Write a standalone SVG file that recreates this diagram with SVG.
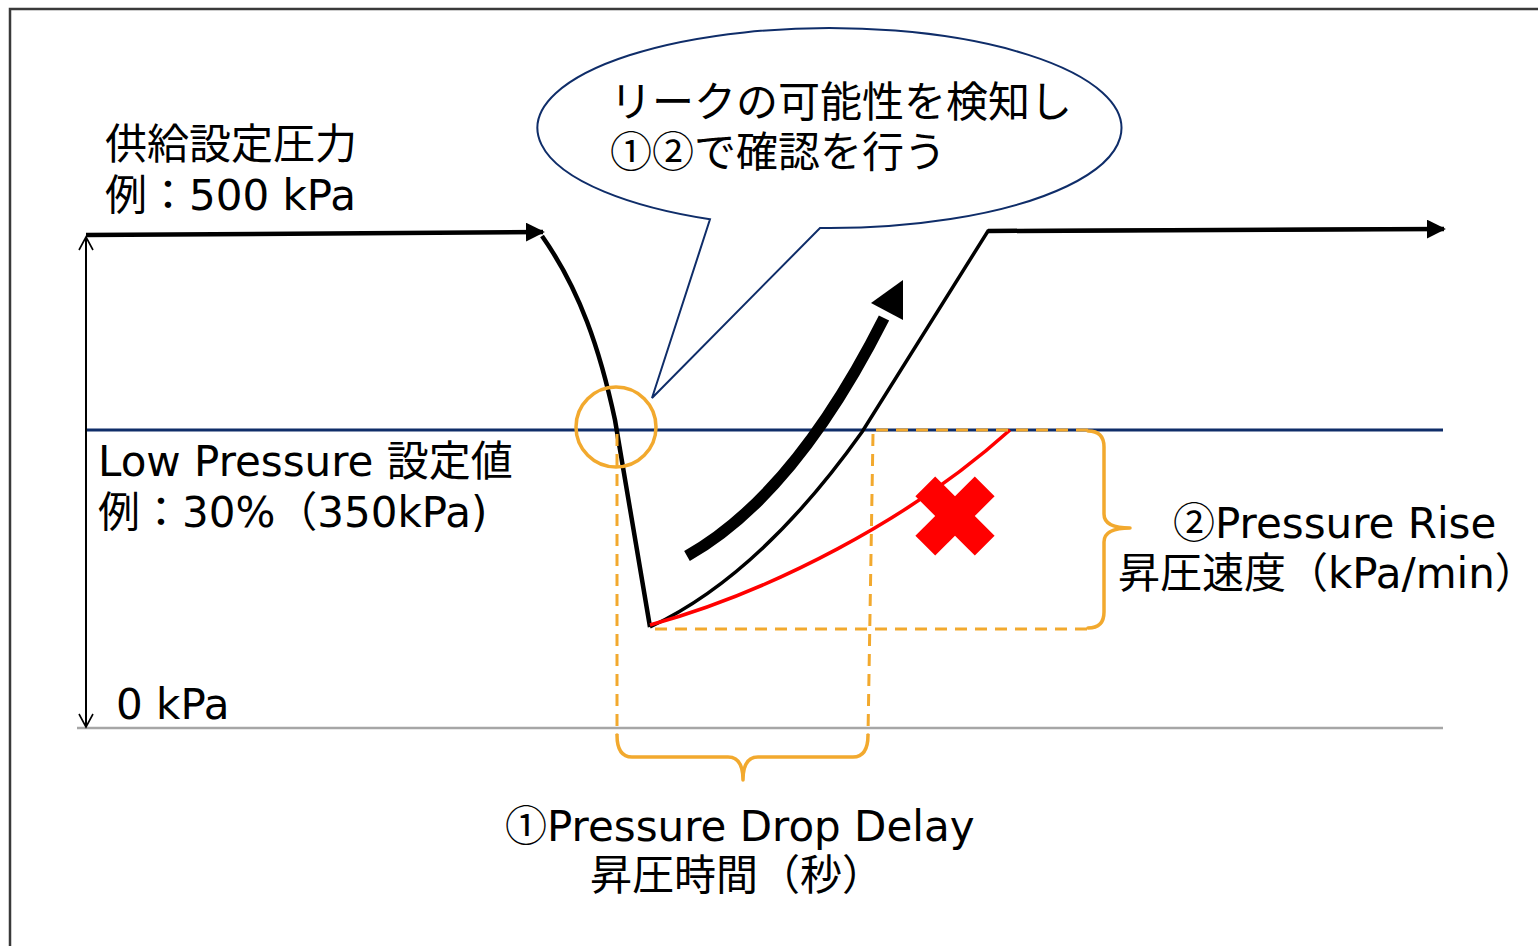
<svg xmlns="http://www.w3.org/2000/svg" width="1538" height="946" viewBox="0 0 1538 946">
<style>
text{font-family:"DejaVu Sans","Noto Sans CJK JP",sans-serif;font-size:42px;fill:#000}
.cj{font-family:"Noto Sans CJK JP",sans-serif}
.dash{fill:none;stroke:#F2A92E;stroke-width:3;stroke-dasharray:12 8}
.brace{fill:none;stroke:#F2A92E;stroke-width:3.5;stroke-linejoin:round;stroke-linecap:round}
.blk{fill:none;stroke:#000;stroke-linecap:butt}
</style>
<defs>
<marker id="ah" viewBox="0 0 10 10" refX="9" refY="5" markerWidth="4.2" markerHeight="4.2" orient="auto" markerUnits="strokeWidth">
<path d="M0,0 L10,5 L0,10 Z" fill="#000"/>
</marker>
<marker id="open" viewBox="0 0 16 16" refX="14" refY="8" markerWidth="8" markerHeight="8" orient="auto" markerUnits="strokeWidth">
<path d="M1,1 L14,8 L1,15" fill="none" stroke="#000" stroke-width="1.6"/>
</marker>
</defs>
<rect width="1538" height="946" fill="#fff"/>
<path d="M10,946 L10,9 L1538,9" fill="none" stroke="#3a3a3a" stroke-width="2.5"/>

<g id="axes">
<line x1="77" y1="728" x2="1443" y2="728" stroke="#A6A6A6" stroke-width="2.5"/>
<line x1="86" y1="430" x2="1443" y2="430" stroke="#0F2D69" stroke-width="3"/>
<line x1="86" y1="472" x2="86" y2="237" stroke="#000" stroke-width="2" marker-end="url(#open)"/>
<line x1="86" y1="470" x2="86" y2="727" stroke="#000" stroke-width="2" marker-end="url(#open)"/>
</g>

<g id="connectors">
<line class="blk" x1="86" y1="235" x2="543" y2="232" stroke-width="4.5" marker-end="url(#ah)"/>
<path class="blk" d="M542,236 C580,290 600,350 615,420 L650,627" stroke-width="4.5"/>
<path class="blk" d="M650,627 C740,585 810,505 862,432 L988,231 L1430,229" stroke-width="3.5"/>
<line class="blk" x1="988" y1="231" x2="1444" y2="229" stroke-width="4.5" marker-end="url(#ah)"/>
<path class="blk" d="M687,556 C765,512 830,425 884,318" stroke-width="11.5"/>
<polygon points="903,280 871,303 903,320" fill="#000"/>
<path d="M650,625 C770,592 910,520 1010,430" fill="none" stroke="#FF0000" stroke-width="3.5"/>
</g>

<g id="markers">
<circle cx="616" cy="427" r="40" fill="none" stroke="#F2A92E" stroke-width="3.5"/>
<line class="dash" x1="617" y1="434" x2="617" y2="735"/>
<line class="dash" x1="873" y1="434" x2="868" y2="735"/>
<line class="dash" x1="876" y1="430" x2="1088" y2="430"/>
<line class="dash" x1="655" y1="629" x2="1088" y2="629"/>
<path class="brace" d="M617,735 Q617,757 632,757 L728,757 Q743,757 743,780 Q743,757 758,757 L853,757 Q868,757 868,735"/>
<path class="brace" d="M1088,431 Q1104,431 1104,447 L1104,514 Q1104,528 1130,528 Q1104,528 1104,542 L1104,612 Q1104,628 1088,628"/>
<g transform="translate(955,516)" fill="#FF0000">
<rect x="-42" y="-14" width="84" height="28" transform="rotate(45)"/>
<rect x="-42" y="-14" width="84" height="28" transform="rotate(-45)"/>
</g>
</g>

<g id="callout">
<path d="M710,219.3 L652,398 L820,228 A292,100 0 1 0 710,219.3 Z" fill="#fff" stroke="#0F2D69" stroke-width="2"/>
<text x="610" y="117">リークの可能性を検知し</text>
<text x="610" y="167"><tspan class="cj">①②</tspan>で確認を行う</text>
</g>

<g id="supply-label">
<text x="105" y="159">供給設定圧力</text>
<text x="105" y="210">例：500 kPa</text>
</g>

<g id="low-label">
<text x="98" y="476">Low Pressure 設定値</text>
<text x="98" y="527">例：30%（350kPa)</text>
</g>

<g id="zero-label">
<text x="116" y="719">0 kPa</text>
</g>

<g id="rise-label">
<text x="1173" y="538"><tspan class="cj">②</tspan>Pressure Rise</text>
<text x="1118" y="588">昇圧速度（kPa/min）</text>
</g>

<g id="drop-label">
<text x="505" y="841"><tspan class="cj">①</tspan>Pressure Drop Delay</text>
<text x="590" y="890">昇圧時間（秒）</text>
</g>
</svg>
